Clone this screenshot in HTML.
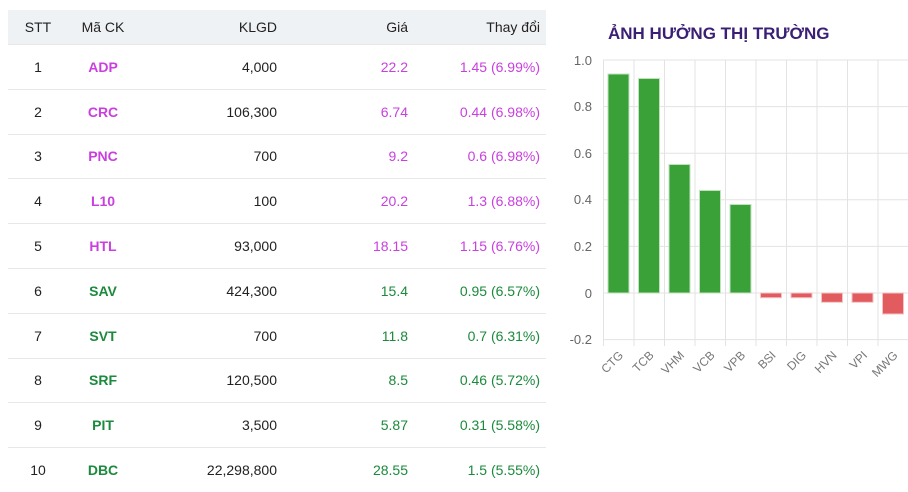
<!DOCTYPE html>
<html><head><meta charset="utf-8"><style>
body{margin:0;width:908px;height:491px;background:#fff;font-family:"Liberation Sans",Arial,sans-serif;position:relative;overflow:hidden}
table{position:absolute;left:8px;top:10px;width:538px;border-collapse:collapse;font-size:14px;color:#222}
th{font-weight:normal;height:34px;background:#eff2f5;padding:0}
td{height:43.8px;border-top:1px solid #e6e8ea;padding:0}
.c{text-align:center}.r{text-align:right;padding-right:6px}
.m{color:#c93fdf}.g{color:#1b8a3c}
b.m,b.g{font-weight:bold}
</style></head><body>
<table>
<tr><th style="width:60px" class="c">STT</th><th style="width:70px" class="c">Mã CK</th><th class="r" style="width:139px">KLGD</th><th class="r" style="width:125px">Giá</th><th class="r">Thay đổi</th></tr>
<tr><td class="c">1</td><td class="c"><b class="m">ADP</b></td><td class="r">4,000</td><td class="r m">22.2</td><td class="r m">1.45 (6.99%)</td></tr>
<tr><td class="c">2</td><td class="c"><b class="m">CRC</b></td><td class="r">106,300</td><td class="r m">6.74</td><td class="r m">0.44 (6.98%)</td></tr>
<tr><td class="c">3</td><td class="c"><b class="m">PNC</b></td><td class="r">700</td><td class="r m">9.2</td><td class="r m">0.6 (6.98%)</td></tr>
<tr><td class="c">4</td><td class="c"><b class="m">L10</b></td><td class="r">100</td><td class="r m">20.2</td><td class="r m">1.3 (6.88%)</td></tr>
<tr><td class="c">5</td><td class="c"><b class="m">HTL</b></td><td class="r">93,000</td><td class="r m">18.15</td><td class="r m">1.15 (6.76%)</td></tr>
<tr><td class="c">6</td><td class="c"><b class="g">SAV</b></td><td class="r">424,300</td><td class="r g">15.4</td><td class="r g">0.95 (6.57%)</td></tr>
<tr><td class="c">7</td><td class="c"><b class="g">SVT</b></td><td class="r">700</td><td class="r g">11.8</td><td class="r g">0.7 (6.31%)</td></tr>
<tr><td class="c">8</td><td class="c"><b class="g">SRF</b></td><td class="r">120,500</td><td class="r g">8.5</td><td class="r g">0.46 (5.72%)</td></tr>
<tr><td class="c">9</td><td class="c"><b class="g">PIT</b></td><td class="r">3,500</td><td class="r g">5.87</td><td class="r g">0.31 (5.58%)</td></tr>
<tr><td class="c">10</td><td class="c"><b class="g">DBC</b></td><td class="r">22,298,800</td><td class="r g">28.55</td><td class="r g">1.5 (5.55%)</td></tr>
</table>
<svg width="908" height="491" style="position:absolute;left:0;top:0" font-family="Liberation Sans,Arial,sans-serif">
<text x="608" y="39" font-size="17" font-weight="bold" fill="#3b1f75">ẢNH HƯỞNG THỊ TRƯỜNG</text>
<g stroke="#e3e3e3" stroke-width="1">
<line x1="603" y1="60" x2="908" y2="60"/><line x1="603" y1="106.6" x2="908" y2="106.6"/><line x1="603" y1="153.2" x2="908" y2="153.2"/><line x1="603" y1="199.8" x2="908" y2="199.8"/><line x1="603" y1="246.4" x2="908" y2="246.4"/><line x1="603" y1="293" x2="908" y2="293"/><line x1="603" y1="339.6" x2="908" y2="339.6"/>
<line x1="603.5" y1="60" x2="603.5" y2="346"/><line x1="634" y1="60" x2="634" y2="346"/><line x1="664.5" y1="60" x2="664.5" y2="346"/><line x1="695" y1="60" x2="695" y2="346"/><line x1="725.5" y1="60" x2="725.5" y2="346"/><line x1="756" y1="60" x2="756" y2="346"/><line x1="786.5" y1="60" x2="786.5" y2="346"/><line x1="817" y1="60" x2="817" y2="346"/><line x1="847.5" y1="60" x2="847.5" y2="346"/><line x1="878" y1="60" x2="878" y2="346"/>
</g>
<g font-size="13" fill="#666" text-anchor="end">
<text x="592" y="65">1.0</text><text x="592" y="111">0.8</text><text x="592" y="158">0.6</text><text x="592" y="204">0.4</text><text x="592" y="251">0.2</text><text x="592" y="298">0</text><text x="592" y="344">-0.2</text>
</g>
<g fill="#3aa038" stroke="#bfe3bd" stroke-width="1">
<rect x="608" y="74" width="21" height="219"/><rect x="638.5" y="78.5" width="21" height="214.5"/><rect x="669" y="164.5" width="21" height="128.5"/><rect x="699.5" y="190.5" width="21" height="102.5"/><rect x="730" y="204.5" width="21" height="88.5"/>
</g>
<g fill="#e15b5f" stroke="#f3c3c4" stroke-width="1">
<rect x="760.5" y="293" width="21" height="4.7"/><rect x="791" y="293" width="21" height="4.7"/><rect x="821.5" y="293" width="21" height="9.3"/><rect x="852" y="293" width="21" height="9.3"/><rect x="882.5" y="293" width="21" height="21"/>
</g>
<g font-size="12" fill="#777" text-anchor="end">
<text transform="translate(624,356) rotate(-45)">CTG</text>
<text transform="translate(654.5,356) rotate(-45)">TCB</text>
<text transform="translate(685,356) rotate(-45)">VHM</text>
<text transform="translate(715.5,356) rotate(-45)">VCB</text>
<text transform="translate(746,356) rotate(-45)">VPB</text>
<text transform="translate(776.5,356) rotate(-45)">BSI</text>
<text transform="translate(807,356) rotate(-45)">DIG</text>
<text transform="translate(837.5,356) rotate(-45)">HVN</text>
<text transform="translate(868,356) rotate(-45)">VPI</text>
<text transform="translate(898.5,356) rotate(-45)">MWG</text>
</g>
</svg>
</body></html>
